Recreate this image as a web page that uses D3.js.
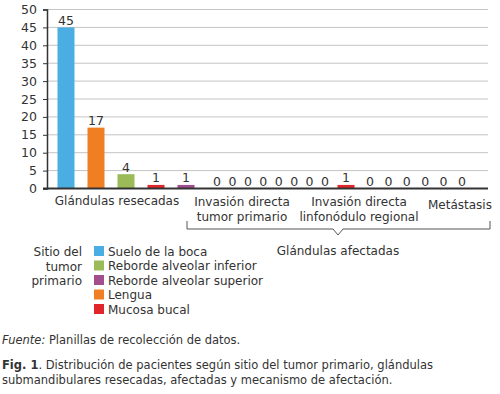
<!DOCTYPE html>
<html><head><meta charset="utf-8">
<script src="https://cdn.jsdelivr.net/npm/d3@7"></script>
<style>
html,body{margin:0;padding:0;background:#fff;}
svg{display:block;font-family:"DejaVu Sans",Verdana,sans-serif;}
</style></head>
<body>
<svg id="c" width="500" height="394"></svg>
<script>
// ---- data ----
const categories = [["Glándulas resecadas"], ["Invasión directa","tumor primario"], ["Invasión directa","linfonódulo regional"], ["Metástasis"]];
const seriesNames = ["Suelo de la boca", "Lengua", "Reborde alveolar inferior", "Mucosa bucal", "Reborde alveolar superior"];
const seriesColors = ["#4aaee2", "#ef7f22", "#9bbb59", "#e0262b", "#a24d8c"];
const sueloBoca = [45, 0, 0, 0];
const lengua = [17, 0, 0, 0];
const rebordeInferior = [4, 0, 0, 0];
const mucosaBucal = [1, 0, 1, 0];
const rebordeSuperior = [1, 0, 0, 0];
const legendOrder = ["Suelo de la boca", "Reborde alveolar inferior", "Reborde alveolar superior", "Lengua", "Mucosa bucal"];
const yTicks = [0, 5, 10, 15, 20, 25, 30, 35, 40, 45, 50];
const groupTitle = "Glándulas afectadas";
const legendTitle = ["Sitio del", "tumor", "primario"];

const seriesValues = [sueloBoca, lengua, rebordeInferior, mucosaBucal, rebordeSuperior];
const bars = [];
categories.forEach((c, g) => seriesNames.forEach((s, k) => bars.push({g, k, idx: g * 5 + k, value: seriesValues[k][g], color: seriesColors[k]})));

const svg = d3.select("#c");
const txt = "#333";
const y = d3.scaleLinear().domain([0, 50]).range([188.5, 9.5]);
// bar slot index -> centre position (piecewise, the original spacing is uneven)
const x = d3.scaleLinear().domain([0, 4, 5, 12, 13, 14, 19]).range([66, 186, 217, 325, 346, 370, 462]);
const xLeft = 47, xRight = 488, barW = 17;

// gridlines
svg.append("g").selectAll("line").data(yTicks.filter(d => d > 0)).join("line")
  .attr("x1", xLeft).attr("x2", xRight).attr("y1", d => y(d)).attr("y2", d => y(d))
  .attr("stroke", "#c4c4c4").attr("stroke-width", 1);

// bars
svg.append("g").selectAll("rect").data(bars.filter(b => b.value > 0)).join("rect")
  .attr("x", b => x(b.idx) - barW / 2).attr("width", barW)
  .attr("y", b => y(b.value)).attr("height", b => y(0) - y(b.value))
  .attr("fill", b => b.color);

// value labels
svg.append("g").selectAll("text").data(bars).join("text")
  .attr("x", b => x(b.idx)).attr("y", b => y(b.value) - 2.5)
  .attr("text-anchor", "middle").attr("font-size", 12.5).attr("fill", txt)
  .text(b => b.value);

// y axis
const yAxis = svg.append("g").attr("transform", `translate(${xLeft},0)`)
  .call(d3.axisLeft(y).tickValues(yTicks).tickSize(4).tickPadding(6));
yAxis.select(".domain").attr("stroke", "#333").attr("stroke-width", 1.5);
yAxis.selectAll(".tick line").attr("stroke", "#333");
yAxis.selectAll(".tick text").attr("font-size", 12.5).attr("fill", txt).attr("font-family", "DejaVu Sans");

// x axis baseline
svg.append("line").attr("x1", xLeft - 4).attr("x2", xRight).attr("y1", y(0)).attr("y2", y(0))
  .attr("stroke", "#333").attr("stroke-width", 2);

// category labels
const catCenters = [117, 242, 359, 460];
categories.forEach((lines, g) => {
  const t = svg.append("text").attr("text-anchor", "middle").attr("font-size", 12).attr("fill", txt);
  const y0 = lines.length === 1 ? (g === 0 ? 205 : 209) : 206;
  lines.forEach((l, i) => t.append("tspan").attr("x", catCenters[g]).attr("y", y0 + i * 15).text(l));
});

// bracket
svg.append("path")
  .attr("d", "M187,221 V229 H333 L338,235 L343,229 H490 V221")
  .attr("fill", "none").attr("stroke", "#555").attr("stroke-width", 1);
svg.append("text").attr("x", 338).attr("y", 255).attr("text-anchor", "middle")
  .attr("font-size", 12).attr("fill", txt).text(groupTitle);

// legend
const lt = svg.append("text").attr("text-anchor", "end").attr("font-size", 12).attr("fill", txt);
legendTitle.forEach((l, i) => lt.append("tspan").attr("x", 82).attr("y", 256 + i * 14.5).text(l));
const lg = svg.append("g").selectAll("g").data(legendOrder).join("g")
  .attr("transform", (d, i) => `translate(94,${246 + i * 14.5})`);
lg.append("rect").attr("width", 10).attr("height", 10).attr("fill", d => seriesColors[seriesNames.indexOf(d)]);
lg.append("text").attr("x", 14).attr("y", 9.5).attr("font-size", 12).attr("fill", txt).text(d => d);

// source & caption
const src = svg.append("text").attr("x", 2).attr("y", 344).attr("font-size", 11.5).attr("fill", txt);
src.append("tspan").attr("font-style", "italic").text("Fuente:");
src.append("tspan").text(" Planillas de recolección de datos.");
const cap = svg.append("text").attr("font-size", 11.5).attr("fill", txt);
const l1 = cap.append("tspan").attr("x", 2).attr("y", 369);
l1.append("tspan").attr("font-weight", "bold").text("Fig. 1");
l1.append("tspan").text(". Distribución de pacientes según sitio del tumor primario, glándulas");
cap.append("tspan").attr("x", 2).attr("y", 384).text("submandibulares resecadas, afectadas y mecanismo de afectación.");
</script>
</body></html>
